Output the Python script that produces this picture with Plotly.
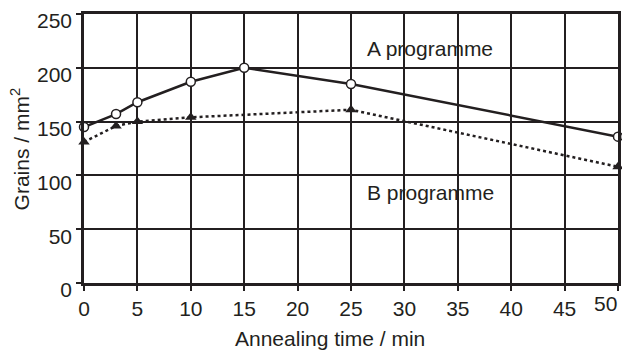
import plotly.graph_objects as go

time_a = [0, 3, 5, 10, 15, 25, 50]
grains_a = [145, 157, 168, 187, 200, 185, 136]
time_b = [0, 3, 5, 10, 25, 50]
grains_b = [131, 146, 150, 154, 161, 108]

x_ticks = [0, 5, 10, 15, 20, 25, 30, 35, 40, 45, 50]
x_tick_text = ["0", "5", "10", "15", "20", "25", "30", "35", "40", "45", ""]
y_ticks = [0, 50, 100, 150, 200, 250]

ink = "#231f20"
font = "Liberation Sans, Arial, sans-serif"
fsize = 21

fig = go.Figure()
fig.add_trace(go.Scatter(
    x=time_a, y=grains_a, mode="lines+markers",
    line=dict(color=ink, width=2.5),
    marker=dict(symbol="circle", size=9, color="white", line=dict(color=ink, width=1.5)),
    cliponaxis=False, showlegend=False))
fig.add_trace(go.Scatter(
    x=time_b, y=grains_b, mode="lines+markers",
    line=dict(color=ink, width=2.5, dash="dot"),
    marker=dict(symbol="triangle-up", size=10, color=ink),
    cliponaxis=False, showlegend=False))

fig.add_annotation(x=32.4, y=217.5, text="A programme", showarrow=False,
                   font=dict(size=fsize, color=ink, family=font))
fig.add_annotation(x=32.4, y=84, text="B programme", showarrow=False,
                   font=dict(size=fsize, color=ink, family=font))
fig.add_annotation(x=x_ticks[-1], y=0, text=str(x_ticks[-1]), showarrow=False,
                   xanchor="right", yanchor="top", xshift=1, yshift=-7,
                   font=dict(size=fsize, color=ink, family=font))
fig.add_annotation(xref="paper", yref="paper", x=0.46, y=-0.205,
                   text="Annealing time / min", showarrow=False,
                   xanchor="center", yanchor="middle",
                   font=dict(size=fsize, color=ink, family=font))
fig.add_annotation(xref="paper", yref="paper", x=-0.120, y=0.50,
                   text="Grains / mm<sup>2</sup>", showarrow=False, textangle=-90,
                   xanchor="center", yanchor="middle",
                   font=dict(size=fsize, color=ink, family=font))

fig.update_xaxes(range=[0, 50], tickvals=x_ticks, ticktext=x_tick_text, automargin=False,
                 showgrid=True, gridcolor=ink, gridwidth=2,
                 showline=True, linecolor=ink, linewidth=2.5, mirror=True,
                 ticks="outside", ticklen=5, tickwidth=2, tickcolor=ink, zeroline=False,
                 tickfont=dict(size=fsize, color=ink, family=font))
fig.update_yaxes(range=[0, 250], tickvals=y_ticks, automargin=False,
                 showgrid=True, gridcolor=ink, gridwidth=2,
                 showline=True, linecolor=ink, linewidth=2.5, mirror=True,
                 ticks="outside", ticklen=5, tickwidth=2, tickcolor=ink, zeroline=False,
                 ticklabelshift=7,
                 tickfont=dict(size=fsize, color=ink, family=font))

fig.update_layout(width=622, height=351, margin=dict(l=84, r=4, t=14, b=68),
                  paper_bgcolor="white", plot_bgcolor="white")
fig.write_html("out.html")
